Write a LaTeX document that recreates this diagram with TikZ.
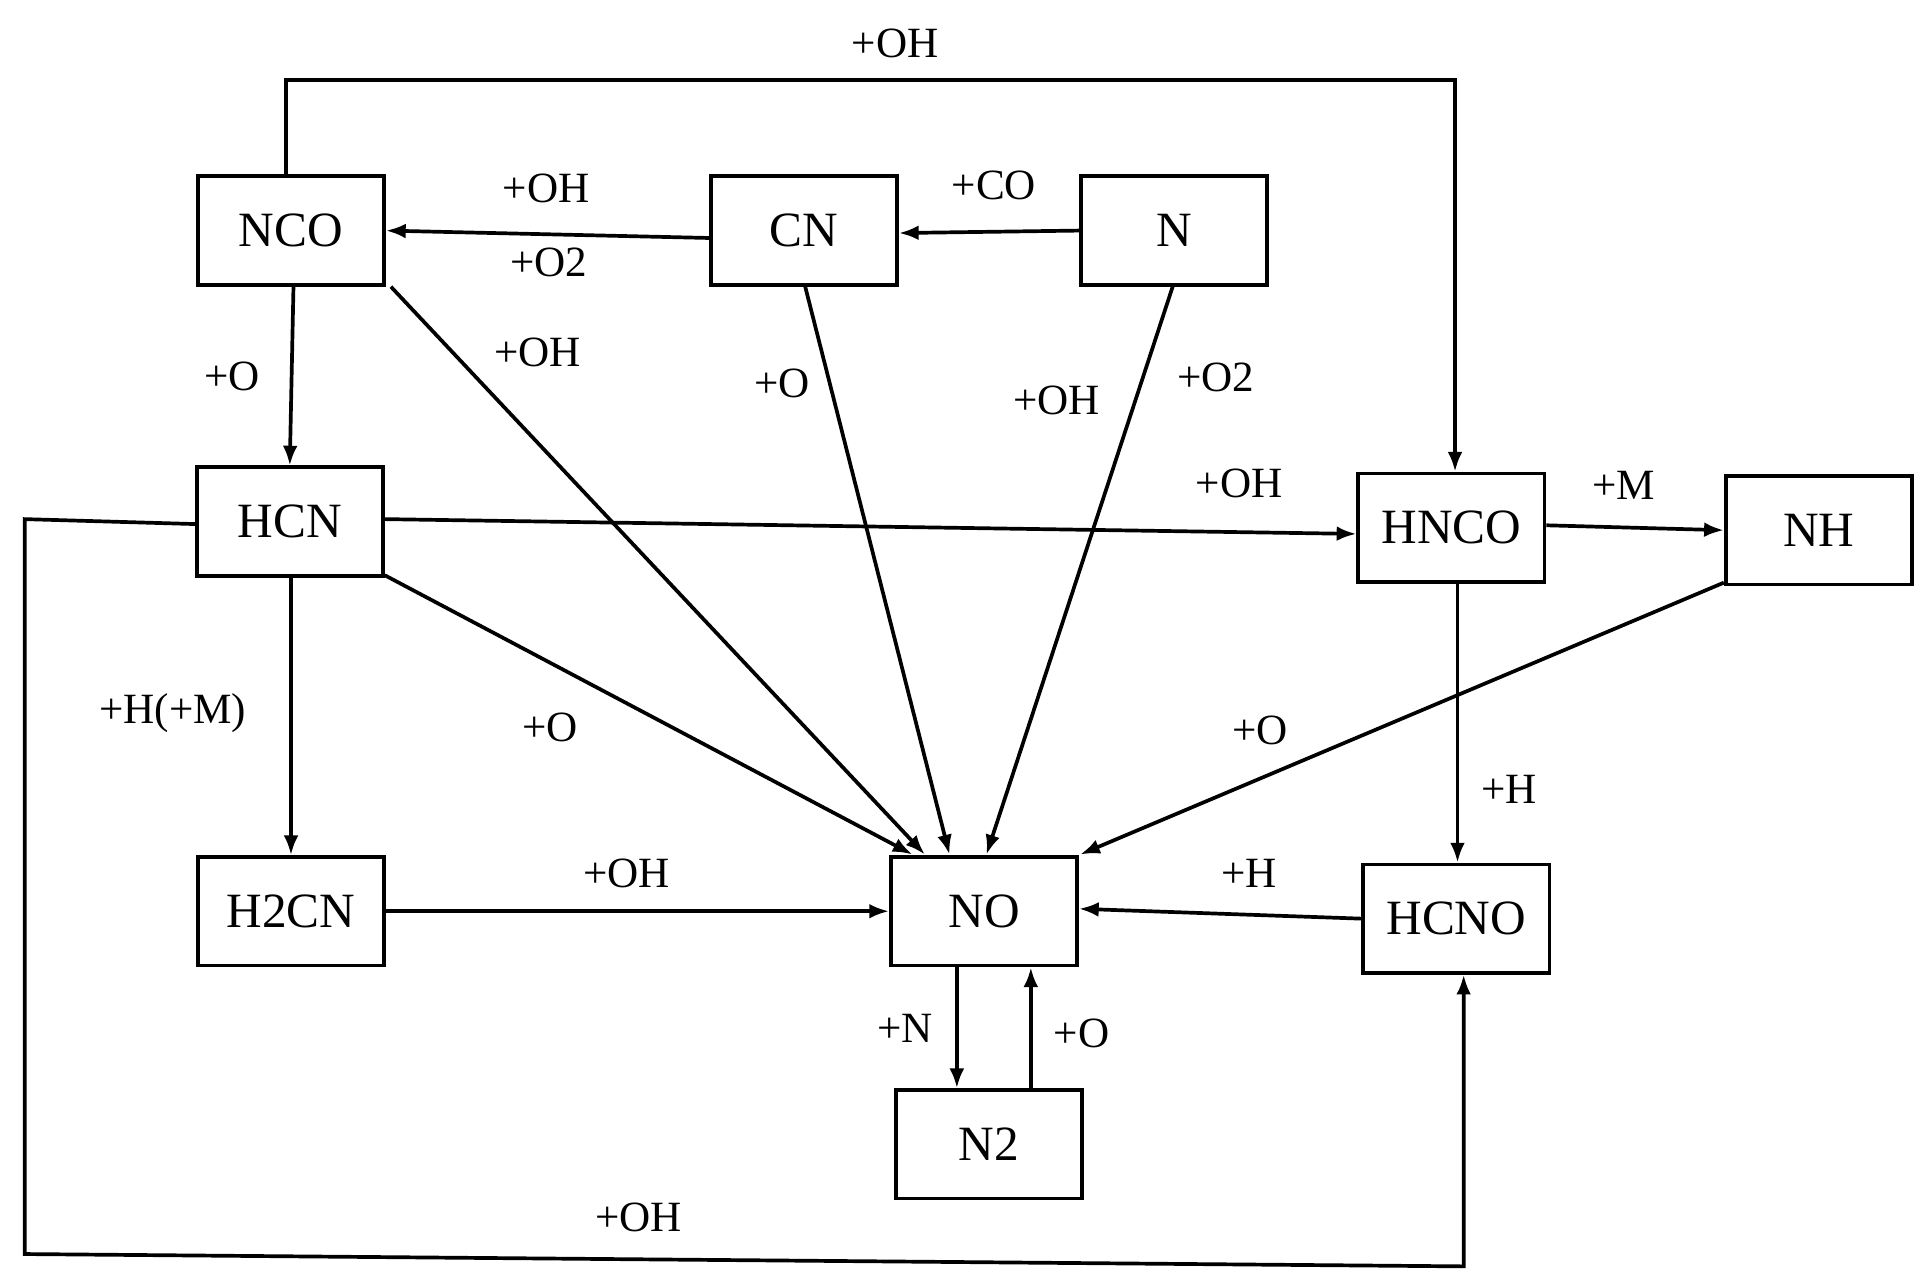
\documentclass[tikz,border=0pt]{standalone}
\usepackage{fontspec}
\setmainfont{Liberation Serif}
\usetikzlibrary{arrows.meta}
\begin{document}
\begin{tikzpicture}[x=1pt,y=-1pt,
  box/.style={draw,line width=3pt,minimum width=151pt,minimum height=88pt,inner sep=0pt,font=\fontsize{40}{48}\selectfont},
  lab/.style={font=\fontsize{35}{42}\selectfont,inner sep=0pt},
  ar/.style={line width=3pt,-{Latex[length=16pt,width=12pt]}},
  ln/.style={line width=3pt}]
\useasboundingbox (0,0) rectangle (1566,1040);
\fill[white] (0,0) rectangle (1566,1040);
\node[box] (NCO) at (236,187) {NCO};
\node[box] (CN) at (652,187) {CN};
\node[box] (N) at (952,187) {N};
\node[box] (HCN) at (235,423) {HCN};
\node[box] (HNCO) at (1177,428) {HNCO};
\node[box] (NH) at (1475,430) {NH};
\node[box] (H2CN) at (236,739) {H2CN};
\node[box] (NO) at (798,739) {NO};
\node[box] (HCNO) at (1181,745) {HCNO};
\node[box] (N2) at (802,928) {N2};
\coordinate (t1) at (232,65); \coordinate (t2) at (1180,65);
\draw[ar] ([xshift=-4pt]NCO.north) -- (t1) -- (t2) -- ([xshift=3pt]HNCO.north);
\node[lab] at (726,35) {+OH};
\draw[ar] ([yshift=-6pt]CN.west) -- (NCO.east);
\node[lab] at (443,153) {+OH};
\node[lab] at (445,213) {+O2};
\draw[ar] (N.west) -- ([yshift=-2pt]CN.east);
\node[lab] at (806,150) {+CO};
\draw[ar] ([xshift=2pt]NCO.south) -- (HCN.north);
\node[lab] at (188,305) {+O};
\coordinate (no1) at (750,693); \coordinate (no2) at (770,693); \coordinate (no3) at (800,693);
\coordinate (no4) at (740,693); \coordinate (no5) at (876,693);
\draw[ar] (NCO.south east) ++(4pt,0) -- (no1);
\node[lab] at (436,286) {+OH};
\draw[ar] ([xshift=1pt]CN.south) -- (no2);
\node[lab] at (634,311) {+O};
\draw[ar] ([xshift=-1pt]N.south) -- (no3);
\node[lab] at (857,325) {+OH};
\node[lab] at (986,306) {+O2};
\draw[ar] ([yshift=2pt]HCN.east) -- ([yshift=-5pt]HNCO.west);
\node[lab] at (1005,392) {+OH};
\coordinate (b1) at (20,421); \coordinate (b2) at (20,1017); \coordinate (b3) at (1187,1027);
\draw[ar] ([yshift=-2pt]HCN.west) -- (b1) -- (b2) -- (b3) -- ([xshift=6pt]HCNO.south);
\node[lab] at (518,987) {+OH};
\draw[ar] (HCN.south east) ++(0,2pt) -- (no4);
\node[lab] at (446,590) {+O};
\draw[ar] ([xshift=1pt]HCN.south) -- ([xshift=0pt]H2CN.north);
\node[lab] at (140,578) {+H(+M)};
\draw[ar] (H2CN.east) -- (NO.west);
\node[lab] at (508,708) {+OH};
\draw[ar] ([yshift=2pt]HNCO.east) -- (NH.west);
\node[lab] at (1317,394) {+M};
\draw[ar] (NH.south west) ++(0,3pt) -- (no5);
\node[lab] at (1022,592) {+O};
\draw[ar] ([xshift=5pt]HNCO.south) -- ([xshift=1pt]HCNO.north);
\node[lab] at (1224,640) {+H};
\draw[ar] (HCNO.west) -- ([yshift=2pt]NO.east);
\node[lab] at (1013,708) {+H};
\draw[ar] ([xshift=-22pt]NO.south) -- ([xshift=-26pt]N2.north);
\node[lab] at (734,834) {+N};
\draw[ar] ([xshift=34pt]N2.north) -- ([xshift=38pt]NO.south);
\node[lab] at (877,838) {+O};
\end{tikzpicture}
\end{document}
